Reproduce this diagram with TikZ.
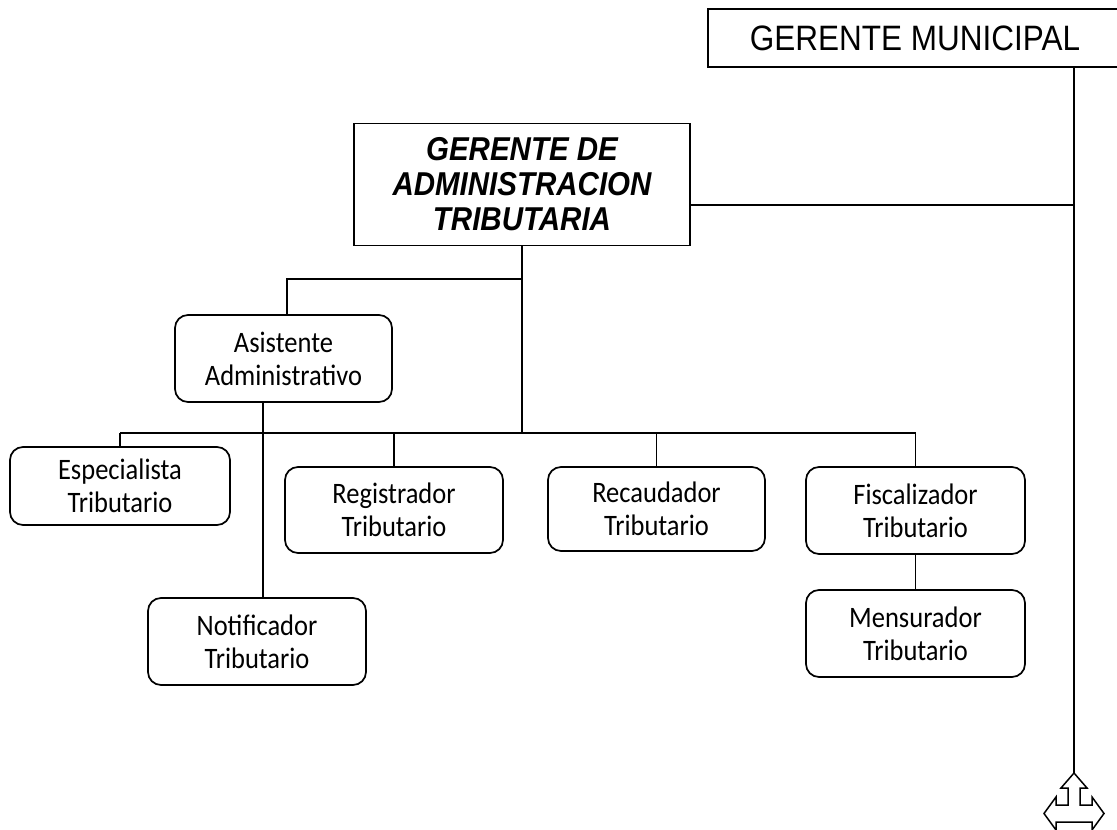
\documentclass[tikz,border=0pt]{standalone}
\usepackage{graphicx}
\usepackage{fontspec}
\newfontfamily\arialfont{Liberation Sans}
\newfontfamily\calfont{Carlito}
% slightly taller lettering
\newcommand\tallline[1]{\scalebox{1}[1.12]{#1}}
\begin{document}
\begin{tikzpicture}[x=1pt,y=-1pt,
  line width=1.7pt,
  unit/.style={draw, rounded corners=13pt, align=center, inner sep=0pt,
    minimum width=218pt, minimum height=86pt,
    font=\calfont\fontsize{26.5}{33}\selectfont},
  head/.style={draw, inner sep=0pt, align=center}]
\useasboundingbox (0,0) rectangle (1117,830);

% heads
\node[head, minimum width=414pt, minimum height=58pt,
  font=\arialfont\fontsize{31.5}{36}\selectfont] (gm) at (915,38) {\tallline{GERENTE MUNICIPAL}};
\node[head, minimum width=336pt, minimum height=122pt,
  font=\arialfont\bfseries\itshape\fontsize{29.5}{35}\selectfont] (ga) at (522,184.5)
  {\tallline{GERENTE DE}\\\tallline{ADMINISTRACION}\\\tallline{TRIBUTARIA}};

% units
\node[unit, minimum width=217pt, minimum height=87pt] (asis) at (283.5,358.5) {\tallline{Asistente}\\\tallline{Administrativo}};
\node[unit, minimum width=220pt, minimum height=78pt] (espe) at (120,486) {\tallline{Especialista}\\\tallline{Tributario}};
\node[unit] (regi) at (394,510) {\tallline{Registrador}\\\tallline{Tributario}};
\node[unit, minimum width=217pt, minimum height=84pt] (reca) at (656.5,509) {\tallline{Recaudador}\\\tallline{Tributario}};
\node[unit, minimum width=219pt, minimum height=87pt] (fisc) at (915.5,510.5) {\tallline{Fiscalizador}\\\tallline{Tributario}};
\node[unit, minimum width=219pt, minimum height=87pt] (mens) at (915.5,633.5) {\tallline{Mensurador}\\\tallline{Tributario}};
\node[unit, minimum height=87pt] (noti) at (257,641.5) {\tallline{Notificador}\\\tallline{Tributario}};

% reference levels for the connectors
\coordinate (bus) at (0,433);
\coordinate (fork) at (0,279);
\coordinate (gaout) at (0,205);
\coordinate (vr) at (1074,0);
\coordinate (pn) at (263,0);
\coordinate (tip) at (1074,773);

% connectors
\draw (ga.south) -- (ga.south |- bus);
\draw (ga.south |- fork) -| ([xshift=3.5pt]asis.north);
\draw (espe.north |- bus) -- (fisc.north |- bus);
\foreach \n in {espe,regi,reca,fisc} \draw (\n.north |- bus) -- (\n.north);
\draw (asis.south -| pn) -- (noti.north -| pn);
\draw (fisc.south) -- (mens.north);
\draw (ga.east |- gaout) -- (vr |- gaout);
\draw (gm.south -| vr) -- (tip);

% left-right-up block arrow
\begin{scope}[shift={(tip)}]
\draw[fill=white, line width=1.5pt, line join=miter]
  (0,0) -- (13,15) -- (6,15) -- (6,32) -- (18,32) -- (18,24) -- (30,40.5)
  -- (18,57) -- (18,49) -- (-18,49) -- (-18,57) -- (-30,40.5) -- (-18,24)
  -- (-18,32) -- (-6,32) -- (-6,15) -- (-13,15) -- cycle;
\end{scope}
\end{tikzpicture}
\end{document}
